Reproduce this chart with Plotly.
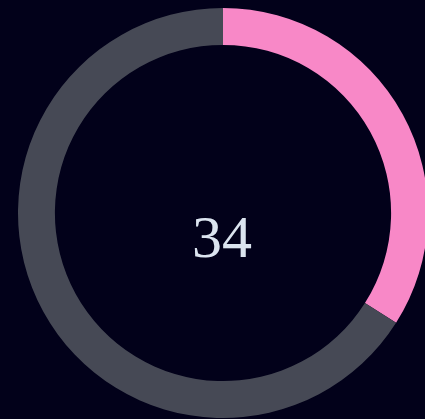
import plotly.graph_objects as go

labels = ["Value", "Remainder"]
values = [34, 66]
colors = ["#f888c7", "#464955"]
center_text = "34"

BG = "#02011a"

fig = go.Figure(go.Pie(
    labels=labels,
    values=values,
    hole=0.82,
    sort=False,
    direction="clockwise",
    rotation=0,
    marker=dict(colors=colors, line=dict(width=0)),
    textinfo="none",
    hoverinfo="label+value",
    showlegend=False,
))

fig.add_annotation(
    text=center_text,
    x=(222 - 18) / 410, xref="paper",
    y=1 - (237 - 8) / 410, yref="paper",
    showarrow=False,
    font=dict(family="Liberation Serif, DejaVu Serif, serif", size=60, color="#dbe4ef"),
    xanchor="center", yanchor="middle",
)

fig.update_layout(
    width=431,
    height=419,
    margin=dict(l=18, r=3, t=8, b=1),
    paper_bgcolor=BG,
    plot_bgcolor=BG,
)

post = (
    "document.documentElement.style.margin='0';"
    "document.documentElement.style.overflow='hidden';"
    "document.documentElement.style.background='" + BG + "';"
    "document.body.style.margin='0';"
    "document.body.style.overflow='hidden';"
    "document.body.style.background='" + BG + "';"
)

fig.write_html("out.html", post_script=post, config={"displayModeBar": False})
